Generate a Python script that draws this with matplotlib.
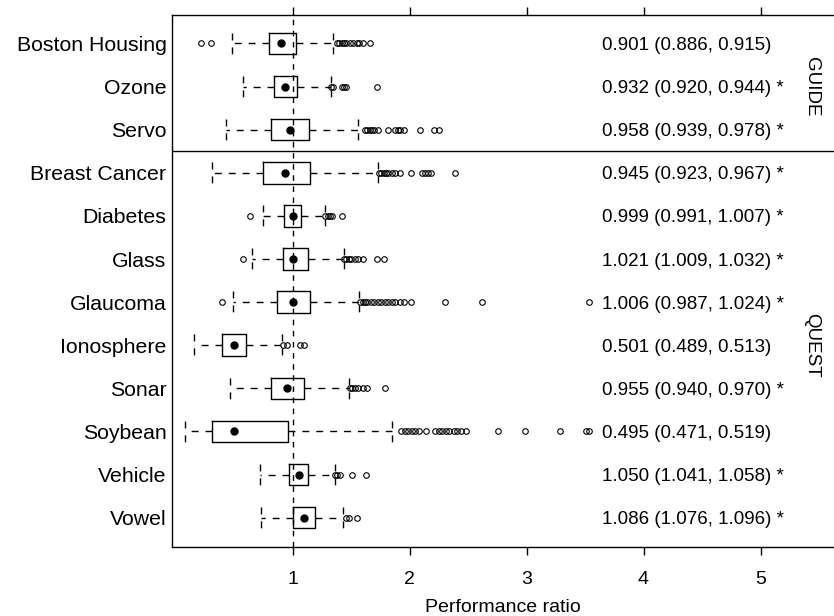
import matplotlib
matplotlib.use("Agg")
import matplotlib.pyplot as plt
from matplotlib.transforms import blended_transform_factory

plt.rcParams['font.family'] = ['Liberation Sans', 'DejaVu Sans']

datasets = ["Boston Housing", "Ozone", "Servo", "Breast Cancer", "Diabetes",
            "Glass", "Glaucoma", "Ionosphere", "Sonar", "Soybean", "Vehicle", "Vowel"]

whisker_lo = [0.48, 0.573, 0.43, 0.313, 0.744, 0.652, 0.494, 0.155, 0.463, 0.084, 0.72, 0.73]
q1 =         [0.796, 0.84, 0.816, 0.75, 0.931, 0.917, 0.865, 0.394, 0.816, 0.313, 0.968, 1.0]
medians =    [0.905, 0.935, 0.975, 0.94, 1.0, 1.005, 1.0, 0.5, 0.95, 0.5, 1.055, 1.097]
q3 =         [1.03, 1.04, 1.138, 1.147, 1.075, 1.132, 1.152, 0.606, 1.095, 0.96, 1.132, 1.19]
whisker_hi = [1.348, 1.33, 1.563, 1.735, 1.276, 1.44, 1.572, 0.911, 1.486, 1.85, 1.362, 1.434]

outliers = [
    [0.22, 0.30, 1.38, 1.40, 1.42, 1.44, 1.46, 1.49, 1.52, 1.55, 1.57, 1.60, 1.66],
    [1.33, 1.35, 1.42, 1.44, 1.46, 1.72],
    [1.62, 1.64, 1.66, 1.68, 1.70, 1.73, 1.82, 1.88, 1.90, 1.92, 1.95, 2.09, 2.21, 2.25],
    [1.74, 1.76, 1.78, 1.80, 1.82, 1.85, 1.88, 1.92, 2.01, 2.11, 2.13, 2.16, 2.18, 2.39],
    [0.64, 1.28, 1.30, 1.32, 1.34, 1.42],
    [0.58, 1.44, 1.46, 1.48, 1.50, 1.53, 1.56, 1.60, 1.72, 1.78],
    [0.40, 1.58, 1.60, 1.62, 1.64, 1.67, 1.70, 1.73, 1.76, 1.79, 1.82, 1.85, 1.88,
     1.92, 1.95, 2.01, 2.30, 2.62, 3.53],
    [0.92, 0.95, 1.06, 1.10],
    [1.49, 1.51, 1.53, 1.56, 1.60, 1.64, 1.79],
    [1.93, 1.96, 1.99, 2.02, 2.05, 2.08, 2.14, 2.22, 2.25, 2.28, 2.31, 2.34, 2.38,
     2.41, 2.44, 2.48, 2.76, 2.99, 3.29, 3.51, 3.53],
    [1.36, 1.38, 1.41, 1.51, 1.63],
    [1.46, 1.48, 1.55],
]

ratio_text = ["0.901 (0.886, 0.915)", "0.932 (0.920, 0.944) *", "0.958 (0.939, 0.978) *",
              "0.945 (0.923, 0.967) *", "0.999 (0.991, 1.007) *", "1.021 (1.009, 1.032) *",
              "1.006 (0.987, 1.024) *", "0.501 (0.489, 0.513)", "0.955 (0.940, 0.970) *",
              "0.495 (0.471, 0.519)", "1.050 (1.041, 1.058) *", "1.086 (1.076, 1.096) *"]

groups = ["GUIDE", "QUEST"]
group_rows = [(0, 2), (3, 11)]

xticks = [1, 2, 3, 4, 5]

fig = plt.figure(figsize=(8.34, 6.16), dpi=100)
ax = fig.add_axes([172/834, 1 - 547/616, 1 - 172/834, (547 - 15)/616])

positions = list(range(len(datasets)))
stats = []
for i in positions:
    stats.append(dict(whislo=whisker_lo[i], q1=q1[i], med=medians[i], q3=q3[i],
                      whishi=whisker_hi[i], fliers=outliers[i], label=datasets[i]))

dash = (0, (5, 5))
ax.axvline(1, color='black', lw=1, linestyle=(0, (4, 4)), zorder=0)

ax.bxp(stats, positions=positions, vert=False, widths=0.5, capwidths=0.5,
       patch_artist=False, showfliers=True,
       boxprops=dict(color='black', lw=1),
       whiskerprops=dict(color='black', lw=1, linestyle=dash),
       capprops=dict(color='black', lw=1, linestyle=dash),
       medianprops=dict(linestyle='none'),
       flierprops=dict(marker='o', markersize=4, markerfacecolor='none',
                       markeredgecolor='black', markeredgewidth=0.8))
ax.plot(medians, positions, linestyle='none', marker='o', markersize=5,
        color='black', zorder=5)

for i, t in enumerate(ratio_text):
    ax.text(3.643, positions[i], t, ha='left', va='center_baseline', fontsize=13.5)

ax.axhline(2.5, color='black', lw=1)

trans = blended_transform_factory(fig.transFigure, ax.transData)
for g, (a, b) in zip(groups, group_rows):
    ax.text(812/834, (a + b)/2, g, rotation=270, ha='center', va='center',
            fontsize=13.5, transform=trans)

ax.set_xlim(1 - (292.5 - 172)/117, 1 + (834 - 292.5)/117)
ax.set_ylim(11.68, -0.66)
ax.set_yticks(positions)
ax.set_yticklabels(datasets, fontsize=15.3)
ax.set_xticks(xticks)
ax.set_xticklabels([str(v) for v in xticks], fontsize=14)
ax.tick_params(axis='y', length=0, pad=4)
ax.tick_params(axis='x', direction='out', length=6, width=1, pad=11, top=True, labeltop=False)
ax.spines['right'].set_visible(False)
for s in ['left', 'top', 'bottom']:
    ax.spines[s].set_linewidth(1)
ax.set_xlabel("Performance ratio", fontsize=14, labelpad=8)

fig.savefig("out.png", dpi=100)
